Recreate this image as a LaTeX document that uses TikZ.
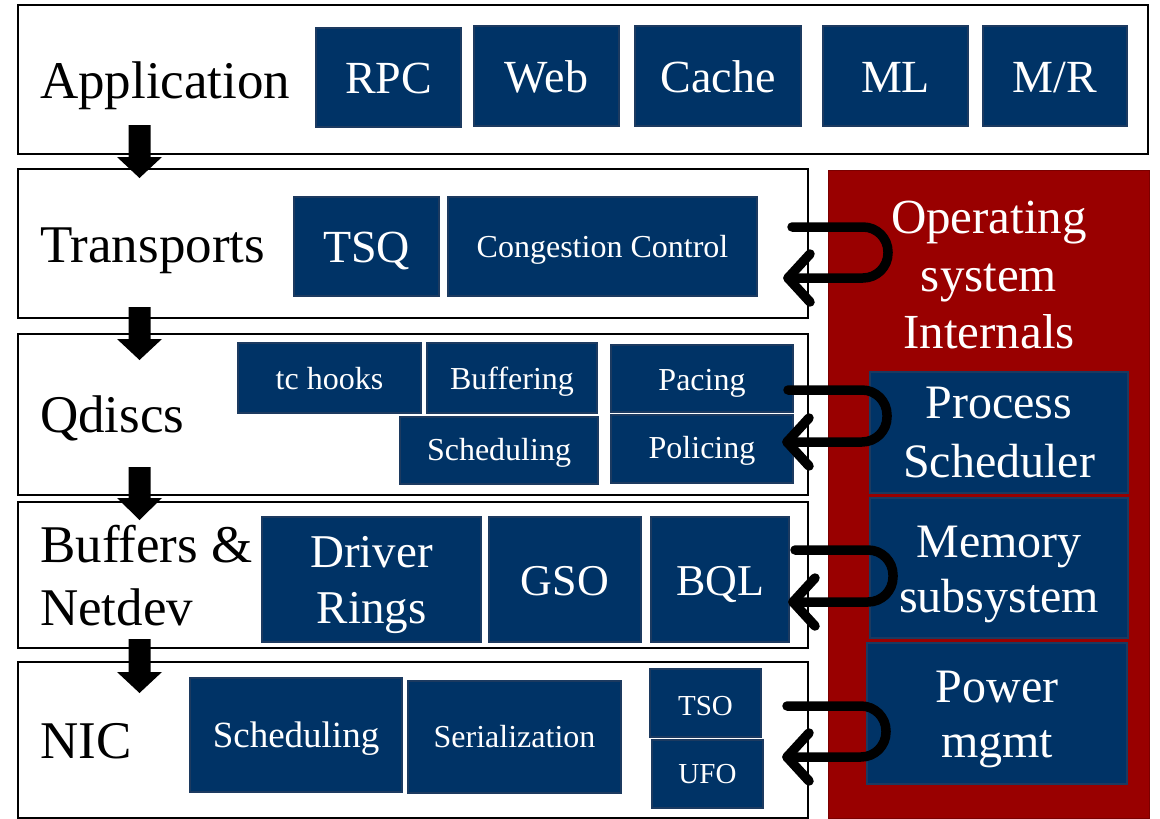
\documentclass[tikz,border=0pt]{standalone}
\usepackage{fontspec}
\setmainfont{Liberation Serif}
\definecolor{navy}{HTML}{003366}
\definecolor{navyline}{HTML}{1C3A60}
\definecolor{osred}{HTML}{990000}
\definecolor{osredline}{HTML}{7A0000}
\tikzset{
  layerbox/.style={draw=black, line width=2pt, fill=white, inner sep=0pt},
  blk/.style={fill=navy, draw=navyline, line width=1.2pt, inner sep=0pt},
  osbox/.style={fill=osred, draw=osredline, line width=1pt, inner sep=0pt},
  lbl/.style={font=\fontsize{53}{58}\selectfont, inner sep=0pt, text=black},
  wt/.style={text=white, inner sep=0pt},
  fA/.style={wt, font=\fontsize{46}{52}\selectfont},
  fB/.style={wt, font=\fontsize{32}{36}\selectfont},
  fC/.style={wt, font=\fontsize{47}{52}\selectfont},
  fD/.style={wt, font=\fontsize{44}{50}\selectfont},
  fE/.style={wt, font=\fontsize{37}{42}\selectfont},
  fF/.style={wt, font=\fontsize{29}{33}\selectfont},
  fG/.style={wt, font=\fontsize{49}{55}\selectfont},
  fH/.style={wt, font=\fontsize{48}{54}\selectfont},
  downarrow/.style={fill=black},
  loopline/.style={draw=black, line width=9.5pt, line cap=round, line join=round},
}
\newcommand\lay[5]{%
  \node[layerbox, minimum width={#4-#2}, minimum height={#5-#3}] (#1) at ({(#2+#4)/2},{(#3+#5)/2}) {};}
\newcommand\bx[8]{%
  \node[blk, minimum width={#4-#2}, minimum height={#5-#3}] (#1) at ({(#2+#4)/2},{(#3+#5)/2}) {};
  \node[#7, anchor=base] (#1-t) at ({(#2+#4)/2},#6) {#8};}
\newcommand\darrow[5]{%
  \fill[downarrow] ({#2-11},#3) -- ({#2+11},#3) -- ({#2+11},#4) -- ({#2+22.5},#4) -- (#2,#5) -- ({#2-22.5},#4) -- ({#2-11},#4) -- cycle;
  \coordinate (#1) at (#2,#5);}
\newcommand\loopar[6]{%
  \coordinate (#1-s) at (#2,#3);
  \coordinate (#1-a) at (#4,#3);
  \coordinate (#1-b) at (#4,#5);
  \coordinate (#1-e) at (#6,#5);
  \coordinate (#1-u) at ({#6+22},{#5-24});
  \coordinate (#1-d) at ({#6+22},{#5+24});
  \draw[loopline, rounded corners=25pt] (#1-s) -- (#1-a) -- (#1-b) -- (#1-e);
  \draw[loopline] (#1-u) -- (#1-e) -- (#1-d);}
\begin{document}
\begin{tikzpicture}[x=1pt, y=-1pt]
\useasboundingbox (0,0) rectangle (1160,819);
\fill[white] (0,0) rectangle (1160,819);

% layers
\lay{app}{18}{5}{1148}{154}
\lay{trans}{18}{169}{808}{318}
\lay{qdisc}{18}{334}{808}{495}
\lay{buf}{18}{502}{808}{648}
\lay{nic}{18}{662}{808}{818}

% OS panel
\node[osbox, minimum width=321, minimum height=648] (os) at (988.5,494) {};
\node[fG, anchor=base] (os-t1) at (989,233) {Operating};
\node[fG, anchor=base] (os-t2) at (989,291) {system};
\node[fG, anchor=base] (os-t3) at (989,348) {Internals};

% layer labels
\node[lbl, anchor=base west] (app-l) at (40,98) {Application};
\node[lbl, anchor=base west] (trans-l) at (40,262) {Transports};
\node[lbl, anchor=base west] (qdisc-l) at (40,432) {Qdiscs};
\node[lbl, anchor=base west] (buf-l1) at (40,562) {Buffers \&};
\node[lbl, anchor=base west] (buf-l2) at (40,625) {Netdev};
\node[lbl, anchor=base west] (nic-l) at (40,758) {NIC};

% application boxes
\bx{rpc}{316}{28}{461}{127}{93}{fA}{RPC}
\bx{web}{474}{26}{619}{126}{92}{fA}{Web}
\bx{cache}{635}{26}{801}{126}{92}{fA}{Cache}
\bx{ml}{823}{26}{968}{126}{92}{fA}{ML}
\bx{mr}{983}{26}{1127}{126}{92}{fA}{M/R}

% transports
\bx{tsq}{294}{197}{439}{296}{262}{fA}{TSQ}
\bx{cc}{448}{197}{757}{296}{257}{fB}{Congestion Control}

% qdiscs
\bx{tch}{238}{343}{421}{413}{389}{fB}{tc hooks}
\bx{bufq}{427}{343}{597}{413}{389}{fB}{Buffering}
\bx{pac}{611}{345}{793}{412}{390}{fB}{Pacing}
\bx{sch}{400}{417}{598}{484}{460}{fB}{Scheduling}
\bx{pol}{611}{415}{793}{483}{458}{fB}{Policing}

% buffers & netdev
\bx{drv}{262}{517}{481}{642}{567}{fC}{Driver}
\node[fC, anchor=base] (drv-t2) at (371.5,623) {Rings};
\bx{gso}{489}{517}{641}{642}{595}{fD}{GSO}
\bx{bql}{651}{517}{789}{642}{595}{fD}{BQL}

% NIC
\bx{nsch}{190}{678}{402}{792}{747}{fE}{Scheduling}
\bx{ser}{408}{681}{621}{793}{747}{fB}{Serialization}
\bx{tso}{650}{669}{761}{737}{715}{fF}{TSO}
\bx{ufo}{652}{740}{763}{808}{783}{fF}{UFO}

% OS boxes
\bx{ps}{870}{372}{1128}{493}{418}{fH}{Process}
\node[fH, anchor=base] (ps-t2) at (999,477) {Scheduler};
\bx{mem}{870}{498}{1128}{638}{557}{fH}{Memory}
\node[fH, anchor=base] (mem-t2) at (999,612) {subsystem};
\bx{pwr}{867}{643}{1127}{784}{702}{fH}{Power}
\node[fH, anchor=base] (pwr-t2) at (997,757) {mgmt};

% down arrows
\darrow{d1}{139.5}{125}{157}{178}
\darrow{d2}{139.5}{307}{339}{360}
\darrow{d3}{139.5}{467}{498}{520}
\darrow{d4}{139.5}{639}{672}{693}

% loop arrows
\loopar{la}{792}{227}{888}{278}{788}
\loopar{lb}{788}{390}{887}{442}{787}
\loopar{lc}{795}{550}{893}{602}{793}
\loopar{ld}{787}{706}{886}{757}{787}
\end{tikzpicture}
\end{document}
